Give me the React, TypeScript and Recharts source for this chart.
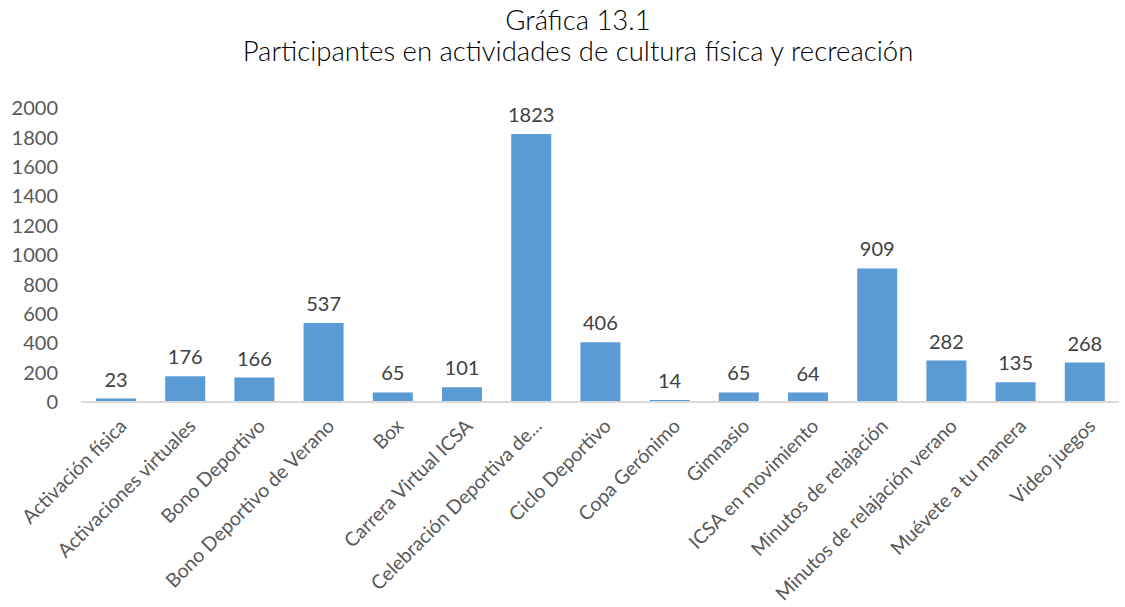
import React from 'react';
import { BarChart, Bar, XAxis, YAxis, LabelList } from 'recharts';

const categories = [
  'Activación física',
  'Activaciones virtuales',
  'Bono Deportivo',
  'Bono Deportivo de Verano',
  'Box',
  'Carrera Virtual ICSA',
  'Celebración Deportiva de...',
  'Ciclo Deportivo',
  'Copa Gerónimo',
  'Gimnasio',
  'ICSA en movimiento',
  'Minutos de relajación',
  'Minutos de relajación verano',
  'Muévete a tu manera',
  'Video juegos',
];

const participantes = [23, 176, 166, 537, 65, 101, 1823, 406, 14, 65, 64, 909, 282, 135, 268];

const yTicks = [0, 200, 400, 600, 800, 1000, 1200, 1400, 1600, 1800, 2000];

const data = categories.map((name, i) => ({ name, value: participantes[i] }));

const FONT = 'Lato, "Open Sans", sans-serif';

const AngledTick = ({ x, y, payload }: any) => (
  <text
    x={x + 7}
    y={y + 12}
    transform={`rotate(-45, ${x + 7}, ${y + 12})`}
    textAnchor="end"
    dominantBaseline="central"
    fontFamily={FONT}
    fontSize={19.5}
    fill="#595959"
  >
    {payload.value}
  </text>
);

export default function App() {
  return (
    <div style={{ position: 'absolute', left: 0, top: 0, width: 1125, height: 607, background: '#fff' }}>
      <div
        style={{
          position: 'absolute',
          top: 4,
          left: 0,
          width: 1156,
          textAlign: 'center',
          fontFamily: FONT,
          fontWeight: 300,
          fontSize: 27.5,
          lineHeight: '31px',
          color: '#000',
        }}
      >
        <div>Gráfica 13.1</div>
        <div>Participantes en actividades de cultura física y recreación</div>
      </div>
      <BarChart
        width={1125}
        height={607}
        data={data}
        margin={{ top: 108, right: 6, bottom: 0, left: 0 }}
        barSize={40}
      >
        <XAxis
          dataKey="name"
          interval={0}
          height={205}
          tickLine={false}
          axisLine={{ stroke: '#d9d9d9', strokeWidth: 2 }}
          tick={<AngledTick />}
        />
        <YAxis
          width={81}
          domain={[0, 2000]}
          ticks={yTicks}
          axisLine={false}
          tickLine={false}
          tickSize={0}
          tickMargin={23}
          tick={{ fontFamily: FONT, fontSize: 20, fill: '#595959' }}
        />
        <Bar dataKey="value" fill="#5b9bd5" isAnimationActive={false}>
          <LabelList
            dataKey="value"
            position="top"
            offset={12}
            style={{ fontFamily: FONT, fontSize: 20, fill: '#404040' }}
          />
        </Bar>
      </BarChart>
    </div>
  );
}
